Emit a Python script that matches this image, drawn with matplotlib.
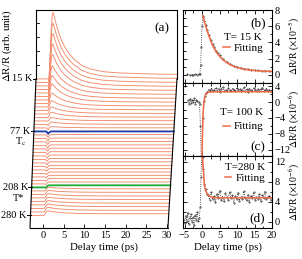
import numpy as np
import matplotlib
matplotlib.use('Agg')
import matplotlib.pyplot as plt
from matplotlib.ticker import MultipleLocator

plt.rcParams['font.family'] = ['Liberation Serif', 'DejaVu Serif']
plt.rcParams['mathtext.fontset'] = 'stix'
plt.rcParams['font.size'] = 7.5

# ---------------- panel (a) data (offsets in units of trace spacing) ----------
temps = [15, 19, 23, 27, 31, 35, 39, 43, 47, 51, 55, 59, 63, 67, 72, 77,
         85, 93, 101, 110, 118, 126, 134, 142, 150, 159, 167, 175, 183, 191, 200, 208,
         217, 226, 235, 244, 253, 262, 271, 280]
peak_amp = [19.0, 17.0, 15.0, 13.0, 11.0, 8.8, 7.0, 5.6, 4.0, 2.8, 2.0, 1.5, 1.0, 0.7, 0.4, 0.0,
            0, 0, 0, 0, 0, 0, 0, 0, 0, 0, 0, 0, 0, 0, 0, 0,
            0.5, 0.6, 0.7, 0.7, 0.8, 0.8, 0.9, 0.9]
plateau = [0, 0, 0, 0, 0, 0, 0, 0, 0, 0, 0, 0, 0, 0, 0, 0.0,
           0.1, 0.1, 0.15, 0.15, 0.2, 0.2, 0.25, 0.25, 0.3, 0.3, 0.35, 0.4, 0.45, 0.5, 0.55, 0.6,
           0.55, 0.55, 0.5, 0.5, 0.45, 0.45, 0.4, 0.4]
dip = [0, 0, 0, 0, 0, 0, 0, 0, 0, 0, 0, 0.2, 0.3, 0.5, 0.6, 0.7,
       0.8, 0.8, 0.8, 0.8, 0.7, 0.7, 0.7, 0.6, 0.6, 0.6, 0.5, 0.5, 0.4, 0.4, 0.3, 0.2,
       0, 0, 0, 0, 0, 0, 0, 0]
# common response shapes (time relative to onset, ps)
t_rel = [-3.3, -0.15, 0.0, 0.25, 0.5, 0.75, 1.0, 1.5, 2.0, 3.0, 4.0, 5.0, 6.0, 8.0,
         10.0, 13.0, 17.0, 22.0, 28.0, 31.0]
peak_shape = [0.0, 0.0, 0.02, 0.3, 0.7, 0.95, 1.0, 0.88, 0.76, 0.58, 0.46, 0.37, 0.3, 0.2,
              0.15, 0.11, 0.09, 0.08, 0.07, 0.07]
step_shape = [0.0, 0.0, 0.0, 0.35, 0.75, 0.95, 1.0, 1.0, 1.0, 1.0, 1.0, 1.0, 1.0, 1.0,
              1.0, 1.0, 1.0, 1.0, 1.0, 1.0]
dip_shape = [0.0, 0.0, 0.4, 1.0, 0.5, 0.15, 0.0, 0.0, 0.0, 0.0, 0.0, 0.0, 0.0, 0.0,
             0.0, 0.0, 0.0, 0.0, 0.0, 0.0]
labelled = {15: '15 K', 77: '77 K', 208: '208 K', 280: '280 K'}

# ---------------- panel (b) data ------------------------------------------------
t_b = [-4.2, -3.5, -3.0, -2.5, -2.0, -1.5, -1.0, -0.6, -0.4, -0.2, 0.0, 0.2, 0.4, 0.7, 1.0,
       1.5, 2.0, 2.5, 3.0, 3.5, 4.0, 4.5, 5.0, 6.0, 7.0, 8.0, 9.0, 10.0, 11.0, 12.0, 13.0,
       14.0, 15.0, 16.0, 17.0, 18.0, 19.0, 20.0]
v_b = [0.05, 0.02, 0.04, 0.03, 0.05, 0.04, 0.06, 0.1, 1.2, 3.5, 6.0, 7.3, 7.1, 6.7, 6.2,
       5.5, 4.9, 4.3, 3.8, 3.4, 3.0, 2.7, 2.45, 1.95, 1.6, 1.35, 1.15, 1.0, 0.88, 0.78, 0.72,
       0.64, 0.6, 0.56, 0.52, 0.49, 0.46, 0.45]
tf_b = [0.2, 0.5, 1.0, 1.5, 2.0, 3.0, 4.0, 5.0, 6.0, 8.0, 10.0, 12.0, 14.0, 16.0, 18.0, 20.0]
vf_b = [7.3, 6.9, 6.1, 5.4, 4.75, 3.65, 2.85, 2.3, 1.85, 1.25, 0.9, 0.7, 0.58, 0.5, 0.45, 0.42]

# ---------------- panel (c) data ------------------------------------------------
t_c_pre = [-4.0, -3.7, -3.4, -3.1, -2.8, -2.5, -2.2, -1.9, -1.6, -1.3, -1.0, -0.7,
           -0.45, -0.2, 0.05, 0.3, 0.6, 0.9, 1.2]
v_c_pre = [0.4, -0.5, 0.8, -0.3, 0.6, 0.1, 0.9, -0.4, 0.5, 0.2, 0.0, -0.5,
           -6.0, -15.0, -15.0, -4.0, 0.2, 1.6, 2.4]
v_c_post = [2.6, 3.1, 2.8, 3.4, 2.7, 3.0, 3.6, 2.9, 3.3, 2.6, 3.2, 3.8, 2.9, 3.1, 2.7, 3.5,
            3.0, 2.8, 3.4, 3.1, 2.7, 3.6, 3.0, 3.3, 2.8, 3.1, 3.7, 2.9, 3.2, 2.6, 3.4, 3.0,
            2.8, 3.5, 3.1, 2.9, 3.3, 2.7, 3.2, 3.6, 2.9, 3.0, 3.4, 2.8, 3.1, 2.9, 3.0]
tf_c = [0.0, 0.1, 0.2, 0.3, 0.45, 0.6, 0.8, 1.0, 1.3, 1.7, 2.2, 3.0, 5.0, 10.0, 15.0, 20.0]
vf_c = [-14.0, -9.0, -5.5, -3.0, -1.0, 0.2, 1.2, 1.8, 2.2, 2.45, 2.55, 2.6, 2.6, 2.6, 2.6, 2.6]

# ---------------- panel (d) data ------------------------------------------------
t_d_pre = [-5.3, -5.0, -4.7, -4.4, -4.1, -3.8, -3.5, -3.2, -2.9, -2.6, -2.3, -2.0, -1.7,
           -1.4, -1.1, -0.8, -0.5, -0.3, 0.0, 0.2, 0.4, 0.7, 1.0, 1.4]
v_d_pre = [0.5, -0.3, 1.2, 0.2, 1.8, -0.5, 0.8, 1.5, 0.0, 0.9, -0.6, 1.3, 0.4, 1.9, 0.1,
           0.7, 3.0, 9.0, 14.5, 13.0, 10.5, 7.6, 6.5, 5.6]
v_d_post = [5.3, 4.4, 5.9, 4.6, 5.2, 3.9, 5.6, 4.8, 6.2, 4.3, 5.0, 4.1, 5.7, 4.9, 4.4, 6.0,
            4.7, 5.3, 3.8, 5.1, 4.6, 5.8, 4.2, 5.0, 4.5, 6.1, 4.8, 4.3, 5.4, 4.0, 5.2, 4.7,
            5.9, 4.4, 5.0, 4.6, 5.5, 4.1, 5.3, 4.8, 6.0, 4.5, 4.9, 5.2, 4.3, 5.0]
tf_d = [0.0, 0.1, 0.2, 0.3, 0.4, 0.5, 0.65, 0.8, 1.0, 1.3, 1.7, 2.2, 2.8, 3.5, 5.0, 10.0, 15.0, 20.0]
vf_d = [14.0, 13.0, 12.0, 11.0, 10.2, 9.2, 7.7, 6.9, 6.3, 5.8, 5.4, 5.1, 4.95, 4.85, 4.8, 4.8, 4.8, 4.8]

# ================================ figure ======================================
W, H = 302, 259
fig = plt.figure(figsize=(W / 100, H / 100), dpi=100)

TRACE = '#f38a6c'
FIT = '#f06a45'

# ---- panel (a)
axa = fig.add_axes([30 / W, 1 - 228 / H, 147 / W, 218 / H])
ytop, ybot = 19.7, -42.6
axa.set_xlim(-3.15, 32.4)
axa.set_ylim(ybot, ytop)
for s in axa.spines.values():
    s.set_visible(False)

n = len(temps)
x_left = lambda y: -1.7 - 1.45 * (-y) / (-ybot)
x_right = lambda y: 32.4 - 2.2 * (-y) / (-ybot)
t_rel_a = np.array(t_rel)
ps, ss, ds = np.array(peak_shape), np.array(step_shape), np.array(dip_shape)
special = {}
for i, T in enumerate(temps):
    base = -i
    onset = 1.45 - 1.2 * i / (n - 1)
    tt = onset + t_rel_a
    tt[0] = x_left(base)
    tt[-1] = x_right(base)
    yy = base + peak_amp[i] * ps + plateau[i] * ss - dip[i] * ds
    if T == 77:
        special['blue'] = (tt, yy)
    elif T == 208:
        special['green'] = (tt, yy)
    else:
        axa.plot(tt, yy, color=TRACE, lw=0.65, clip_on=False)
axa.plot(*special['blue'], color='#1f3aa6', lw=1.3, clip_on=False)
axa.plot(*special['green'], color='#1faa35', lw=1.3, clip_on=False)

# frame of panel (a)
fk = dict(color='k', lw=0.8, clip_on=False)
axa.plot([-1.7, 32.4], [ytop, ytop], **fk)
axa.plot([-1.7, -1.7], [ytop, 0], **fk)
axa.plot([-1.7, -3.15], [0, ybot], **fk)
axa.plot([32.4, 32.4], [ytop, 0], **fk)
axa.plot([32.4, 30.2], [0, ybot], **fk)
axa.plot([-3.15, 30.2], [ybot, ybot], **fk)
for yv in [4, 8, 12, 16]:
    axa.plot([-1.7, -1.05], [yv, yv], color='k', lw=0.6, clip_on=False)
for T, lab in labelled.items():
    i = temps.index(T)
    xl = x_left(-i)
    axa.plot([xl - 0.8, xl], [-i, -i], color='k', lw=0.7, clip_on=False)
    axa.text(xl - 0.9, -i, lab, ha='right', va='center', fontsize=7.5)
axa.text(x_left(-15) - 1.7, -17.9, r'T$_\mathrm{c}$', ha='right', va='center', fontsize=7.5)
axa.text(x_left(-31) - 1.7, -34.1, 'T*', ha='right', va='center', fontsize=7.5)
axa.text(0.9, 0.915, '(a)', transform=axa.transAxes, ha='center', va='center', fontsize=9.5)

axa.set_xticks(range(0, 31, 5))
axa.set_yticks([])
axa.tick_params(axis='x', direction='in', length=3, width=0.6, pad=2, labelsize=7.5)
axa.set_xlabel('Delay time (ps)', fontsize=7.8, labelpad=2)
fig.text(7 / W, 1 - 45 / H, r'$\Delta$R/R (arb. unit)', rotation=90, ha='center', va='center', fontsize=7.8)

# ---- right panels
axb = fig.add_axes([183 / W, 1 - 83 / H, 89 / W, 73 / H])
axc = fig.add_axes([183 / W, 1 - 155.5 / H, 89 / W, 72.5 / H])
axd = fig.add_axes([183 / W, 1 - 228 / H, 89 / W, 72.5 / H])
for ax in (axb, axc, axd):
    ax.set_xlim(-5.43, 20)
    ax.xaxis.set_major_locator(MultipleLocator(5))
    ax.xaxis.set_minor_locator(MultipleLocator(2.5))
    ax.tick_params(which='both', direction='in', top=True, bottom=True, left=True,
                   right=True, labelleft=False, labelright=True, width=0.6, pad=2,
                   labelsize=7.5)
    ax.tick_params(which='major', length=3)
    ax.tick_params(which='minor', length=1.8)
    ax.yaxis.set_label_position('right')
    for s in ax.spines.values():
        s.set_linewidth(0.8)
axb.tick_params(labelbottom=False)
axc.tick_params(labelbottom=False)

dk = dict(color='#222222', ls=':', lw=0.6, marker='.', ms=0.8)
lab_x = (294.5 - 183) / 89

# (b)
axb.plot(t_b, v_b, **dk)
fb, = axb.plot(tf_b, vf_b, color=FIT, lw=1.1)
axb.set_ylim(-1, 8)
axb.yaxis.set_major_locator(MultipleLocator(2))
axb.yaxis.set_minor_locator(MultipleLocator(1))
axb.text(0.67, 0.62, 'T= 15 K', transform=axb.transAxes, ha='center', va='center', fontsize=8)
axb.legend([fb], ['Fitting'], loc='center left', bbox_to_anchor=(0.45, 0.48), frameon=False,
           handlelength=0.6, handletextpad=0.35, borderpad=0, borderaxespad=0, fontsize=8)
axb.text(0.84, 0.82, '(b)', transform=axb.transAxes, ha='center', va='center', fontsize=9.5)

# (c)
t_c_post = np.linspace(1.5, 20, len(v_c_post))
axc.plot(list(t_c_pre) + list(t_c_post), list(v_c_pre) + list(v_c_post), **dk)
fc, = axc.plot(tf_c, vf_c, color=FIT, lw=1.1)
axc.set_ylim(-13.5, 4.8)
axc.yaxis.set_major_locator(MultipleLocator(4))
axc.yaxis.set_minor_locator(MultipleLocator(2))
axc.text(0.66, 0.59, 'T= 100 K', transform=axc.transAxes, ha='center', va='center', fontsize=8)
axc.legend([fc], ['Fitting'], loc='center left', bbox_to_anchor=(0.45, 0.40), frameon=False,
           handlelength=0.6, handletextpad=0.35, borderpad=0, borderaxespad=0, fontsize=8)
axc.text(0.84, 0.12, '(c)', transform=axc.transAxes, ha='center', va='center', fontsize=9.5)

# (d)
t_d_post = np.linspace(1.8, 20, len(v_d_post))
axd.plot(list(t_d_pre) + list(t_d_post), list(v_d_pre) + list(v_d_post), **dk)
fd, = axd.plot(tf_d, vf_d, color=FIT, lw=1.1)
axd.set_ylim(-1.2, 13.2)
axd.yaxis.set_major_locator(MultipleLocator(4))
axd.yaxis.set_minor_locator(MultipleLocator(2))
axd.text(0.70, 0.83, 'T=280 K', transform=axd.transAxes, ha='center', va='center', fontsize=8)
axd.legend([fd], ['Fitting'], loc='center left', bbox_to_anchor=(0.47, 0.69), frameon=False,
           handlelength=0.6, handletextpad=0.35, borderpad=0, borderaxespad=0, fontsize=8)
axd.text(0.83, 0.14, '(d)', transform=axd.transAxes, ha='center', va='center', fontsize=9.5)
axd.set_xlabel('Delay time (ps)', fontsize=7.8, labelpad=2)

for ax, exp in ((axb, '-5'), (axc, '-6'), (axd, '-6')):
    ax.set_ylabel(r'$\Delta$R/R ($\times$10$^{' + exp + r'}$)', fontsize=7.0)
    ax.yaxis.label.set_verticalalignment('center')
    ax.yaxis.set_label_coords(lab_x, 0.5)

fig.savefig('out.png', dpi=100)
